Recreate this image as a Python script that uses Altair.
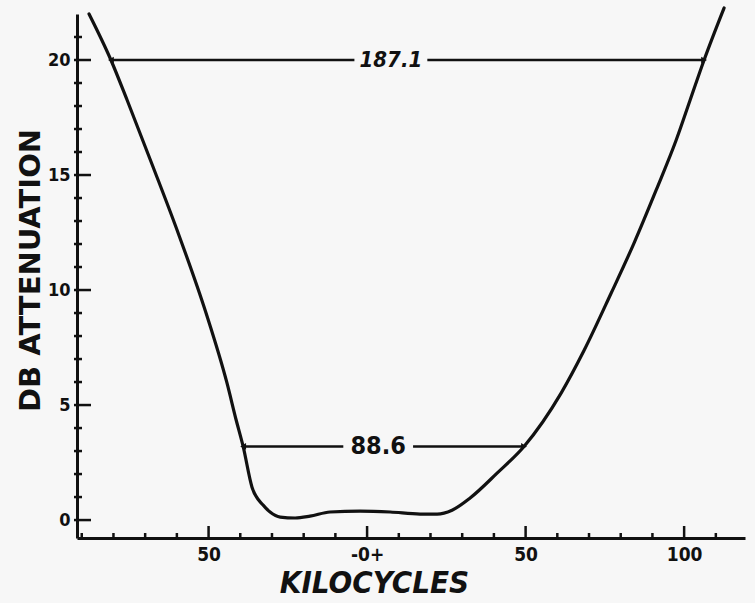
import altair as alt
import pandas as pd

# Filter response: attenuation (dB) against frequency offset (kc) from centre
freq_kc = [-87.7, -80.8, -75.7, -67.5, -59.6, -50.8, -44.2, -41.3, -39.1, -36.3,
           -32.8, -30.6, -27.4, -22.7, -18.0, -11.7, -2.2, 7.3, 16.7, 22.1,
           26.8, 32.5, 41.0, 49.5, 61.2, 68.5, 77.0, 84.2, 91.2, 97.5,
           101.9, 106.3, 112.6]
atten_db = [22.0, 20.0, 18.26, 15.35, 12.48, 9.0, 5.96, 4.35, 3.2, 1.43,
            0.65, 0.35, 0.13, 0.09, 0.17, 0.35, 0.39, 0.35, 0.26, 0.26,
            0.43, 0.96, 2.04, 3.2, 5.52, 7.39, 9.87, 12.04, 14.35, 16.52,
            18.26, 20.0, 22.26]

# Bandwidth dimension lines
bw_labels = ["187.1", "88.6"]
bw_widths = [187.1, 88.6]
bw_levels = [20.0, 3.2]
bw_left = [-80.8, -39.1]

# Axis tick values
x_major = [-50, 0, 50, 100]
x_minor = [-90, -80, -70, -60, -40, -30, -20, -10, 10, 20, 30, 40, 60, 70, 80, 90, 110]
y_major = [0, 5, 10, 15, 20]
y_minor = [1, 2, 3, 4, 6, 7, 8, 9, 11, 12, 13, 14, 16, 17, 18, 19, 21]

FONT = "DejaVu Sans Condensed"
WIDE_FONT = "DejaVu Sans"
INK = "#111111"
W, H = 668, 524

X_DOMAIN = [-91.5, 119.2]
Y_DOMAIN = [-0.78, 22.0]
KC_PER_PX = (X_DOMAIN[1] - X_DOMAIN[0]) / W
DB_PER_PX = (Y_DOMAIN[1] - Y_DOMAIN[0]) / H

# where each bandwidth label sits along its line, its size and style,
# and the half-gap left in the line for it
label_center = [7.5, 3.5]
label_halfgap = [11.5, 11.0]
label_size = [22, 25]
label_style = ["italic", "normal"]

curve = pd.DataFrame({"kc": freq_kc, "db": atten_db})

segs = []
ends = []
texts = []
for lab, w, lev, left, c, g in zip(bw_labels, bw_widths, bw_levels, bw_left,
                                   label_center, label_halfgap):
    right = left + w
    segs.append({"a": left, "b": c - g, "db": lev})
    segs.append({"a": c + g, "b": right, "db": lev})
    ends.append({"kc": left, "db": lev, "shape": "triangle-left"})
    ends.append({"kc": right, "db": lev, "shape": "triangle-right"})
    texts.append({"kc": c, "db": lev, "label": lab})
segs = pd.DataFrame(segs)
ends = pd.DataFrame(ends)
texts = pd.DataFrame(texts)

# inward tick marks, lengths given in pixels and turned into data units
x_ticks = pd.DataFrame(
    [{"kc": v, "y0": Y_DOMAIN[0], "y1": Y_DOMAIN[0] + 12 * DB_PER_PX} for v in x_major]
    + [{"kc": v, "y0": Y_DOMAIN[0], "y1": Y_DOMAIN[0] + 5 * DB_PER_PX} for v in x_minor]
)
y_ticks = pd.DataFrame(
    [{"db": v, "x0": X_DOMAIN[0] - 3 * KC_PER_PX, "x1": X_DOMAIN[0] + 14 * KC_PER_PX} for v in y_major]
    + [{"db": v, "x0": X_DOMAIN[0] - 3 * KC_PER_PX, "x1": X_DOMAIN[0] + 5 * KC_PER_PX} for v in y_minor]
)

x_scale = alt.Scale(domain=X_DOMAIN, nice=False, zero=False)
y_scale = alt.Scale(domain=Y_DOMAIN, nice=False, zero=False)

x_axis = alt.Axis(
    values=x_major,
    labelExpr="datum.value == 0 ? '-0+' : format(abs(datum.value), 'd')",
    ticks=False, tickSize=0, grid=False,
    domainColor=INK, domainWidth=3,
    labelFont=FONT, labelFontSize=19, labelFontWeight="bold", labelColor=INK,
    labelPadding=7, labelOverlap=False,
    title="KILOCYCLES", titleFont=FONT, titleFontSize=31, titleFontWeight="bold",
    titleFontStyle="italic", titleColor=INK,
    titleX=297, titleY=45, titleAlign="center", titleBaseline="middle",
)
y_axis = alt.Axis(
    values=y_major,
    ticks=False, tickSize=0, grid=False,
    domainColor=INK, domainWidth=3,
    labelFont=FONT, labelFontSize=18, labelFontWeight="bold", labelColor=INK,
    labelPadding=7, labelOverlap=False,
    title="DB ATTENUATION", titleFont=WIDE_FONT, titleFontSize=29, titleFontWeight="bold",
    titleColor=INK, titleAngle=270,
    titleX=-47, titleY=256, titleAlign="center", titleBaseline="middle",
)


def X(field):
    return alt.X(field, type="quantitative", scale=x_scale, axis=x_axis)


def Y(field):
    return alt.Y(field, type="quantitative", scale=y_scale, axis=y_axis)


line = alt.Chart(curve).mark_line(
    color=INK, strokeWidth=3.2, interpolate="monotone", strokeCap="round"
).encode(x=X("kc"), y=Y("db"))

dim_lines = alt.Chart(segs).mark_rule(color=INK, strokeWidth=2.6).encode(
    x=X("a"), x2=alt.X2("b"), y=Y("db")
)

arrow_heads = alt.Chart(ends).mark_point(
    filled=True, color=INK, size=45, opacity=1
).encode(
    x=X("kc"), y=Y("db"),
    shape=alt.Shape("shape:N", scale=None, legend=None),
)

label_layers = []
for lab, sz, st in zip(bw_labels, label_size, label_style):
    label_layers.append(
        alt.Chart(texts).transform_filter(alt.datum.label == lab).mark_text(
            font=FONT, fontSize=sz, fontWeight="bold", fontStyle=st, color=INK,
            align="center", baseline="middle",
        ).encode(x=X("kc"), y=Y("db"), text="label:N")
    )

x_tick_marks = alt.Chart(x_ticks).mark_rule(color=INK, strokeWidth=2.5).encode(
    x=X("kc"), y=Y("y0"), y2=alt.Y2("y1")
)
y_tick_marks = alt.Chart(y_ticks).mark_rule(color=INK, strokeWidth=2.5).encode(
    y=Y("db"), x=X("x0"), x2=alt.X2("x1")
)

chart = alt.layer(
    x_tick_marks, y_tick_marks, dim_lines, arrow_heads, *label_layers, line
).properties(
    width=W, height=H,
    autosize=alt.AutoSizeParams(type="none"),
    padding={"left": 77, "top": 14, "right": 10, "bottom": 65},
    background="#f7f7f7",
).configure_view(stroke=None)

chart.save("out.html", embed_options={"renderer": "svg", "actions": False})
